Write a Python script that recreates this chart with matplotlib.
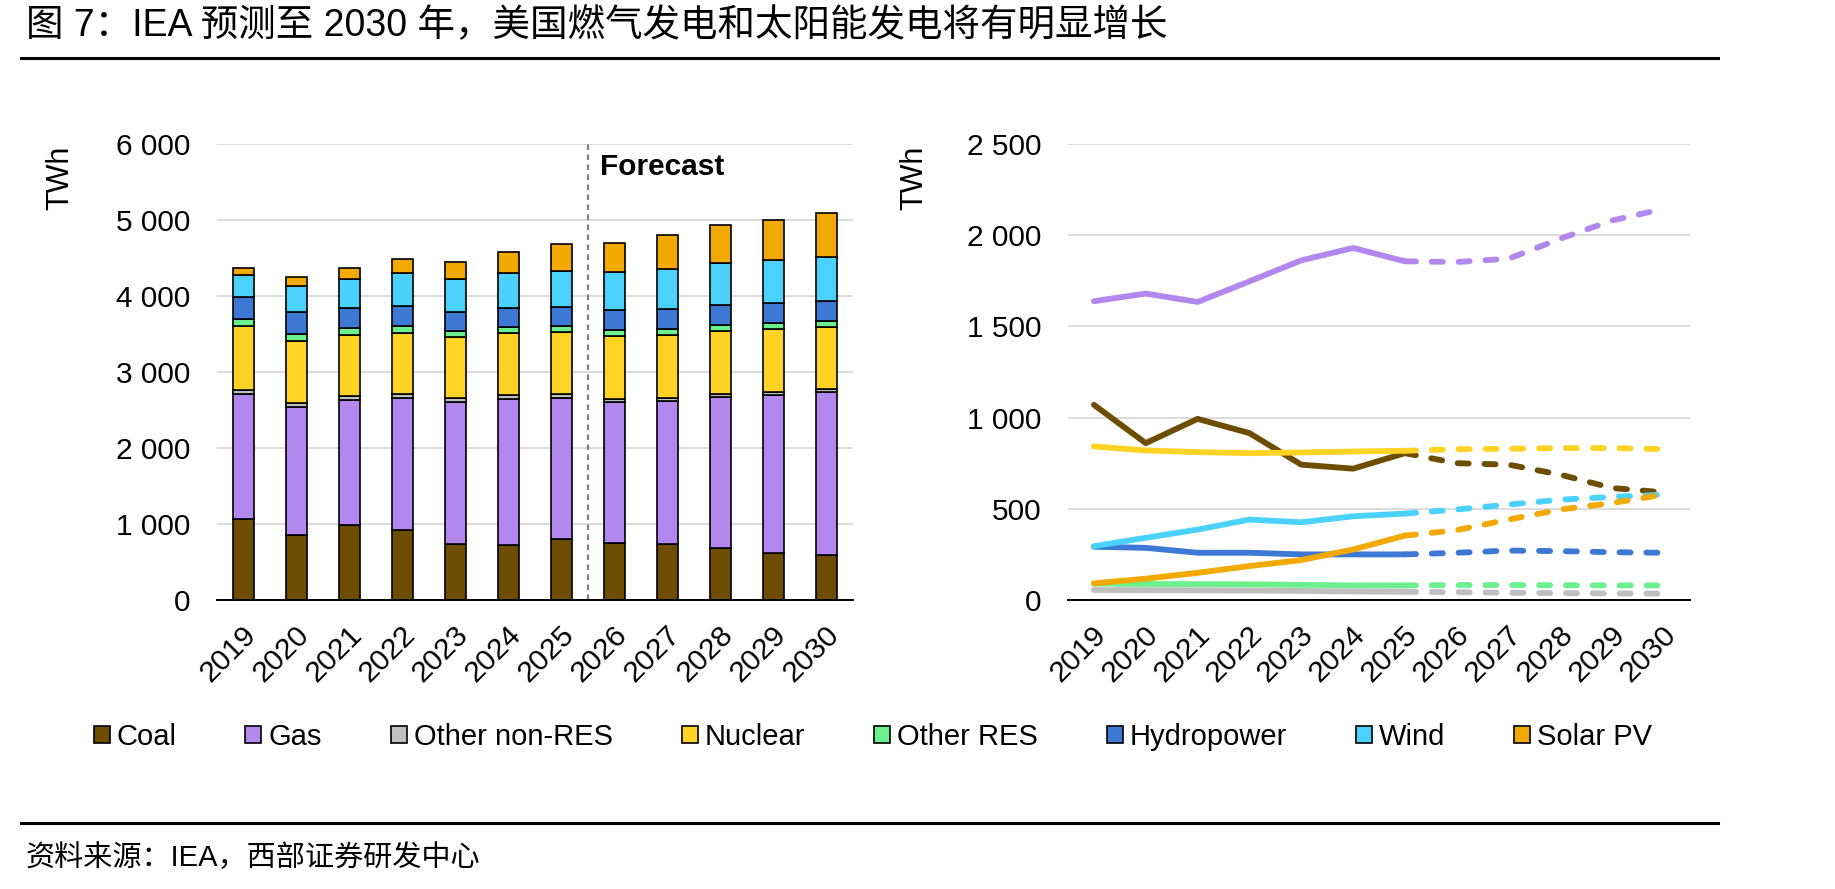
import numpy as np
import matplotlib
matplotlib.use("Agg")
import matplotlib.pyplot as plt
import matplotlib.transforms as mtransforms
from matplotlib.patches import Patch
from matplotlib.lines import Line2D
from matplotlib.ticker import FuncFormatter, MultipleLocator

plt.rcParams['font.family'] = ['Liberation Sans', 'Noto Sans CJK SC']

# Data (TWh)
years = ["2019", "2020", "2021", "2022", "2023", "2024",
         "2025", "2026", "2027", "2028", "2029", "2030"]
coal = [1070, 860, 993, 915, 742, 720, 805, 750, 742, 687, 614, 590]
gas = [1638, 1680, 1634, 1747, 1862, 1930, 1857, 1853, 1871, 1981, 2081, 2145]
other_nonres = [55, 54, 53, 52, 50, 47, 45, 43, 40, 38, 36, 35]
nuclear = [842, 820, 811, 805, 809, 814, 818, 827, 829, 833, 833, 827]
other_res = [90, 88, 87, 86, 83, 80, 80, 82, 82, 81, 80, 80]
hydro = [292, 286, 259, 259, 250, 250, 250, 259, 271, 268, 262, 259]
wind = [295, 341, 386, 441, 426, 459, 474, 496, 523, 550, 565, 578]
solar = [91, 117, 149, 186, 219, 277, 353, 383, 441, 496, 532, 578]

names = ["Coal", "Gas", "Other non-RES", "Nuclear", "Other RES",
         "Hydropower", "Wind", "Solar PV"]
series = [coal, gas, other_nonres, nuclear, other_res, hydro, wind, solar]
colors = ["#6E4C00", "#B388EE", "#BFBFBF", "#FFD324", "#6CF08E",
          "#3D78D4", "#4AD2FC", "#F2A900"]
last_actual = 6  # index of 2025

W, H = 1835, 889
fig = plt.figure(figsize=(W / 100, H / 100), dpi=100)

TICK_FS = 21.5


def fmt(v, pos):
  return f"{v:,.0f}".replace(",", " ")


def style_axes(ax, ymax, step):
  ax.set_ylim(0, ymax)
  ax.set_xlim(-0.5, len(years) - 0.5)
  ax.yaxis.set_major_locator(MultipleLocator(step))
  ax.yaxis.set_major_formatter(FuncFormatter(fmt))
  ax.grid(axis='y', color='#D9D9D9', lw=1.3)
  ax.set_axisbelow(True)
  for s in ['left', 'right', 'top']:
    ax.spines[s].set_visible(False)
  ax.spines['bottom'].set_color('black')
  ax.spines['bottom'].set_linewidth(1.4)
  ax.spines['bottom'].set_zorder(5)
  ax.tick_params(axis='both', length=0, labelsize=TICK_FS)
  ax.tick_params(axis='y', pad=19)
  ax.tick_params(axis='x', pad=22)
  ax.set_xticks(np.arange(len(years)))
  ax.set_xticklabels(years, rotation=45, ha='right', va='center',
                     rotation_mode='anchor')
  offset = mtransforms.ScaledTranslation(0.08, 0, fig.dpi_scale_trans)
  for lab in ax.get_xticklabels():
    lab.set_transform(lab.get_transform() + offset)
  ax.text(-0.247, 0.925, "TWh", transform=ax.transAxes, rotation=90,
          ha='center', va='center', fontsize=22)


# Left: stacked bars
ax1 = fig.add_axes([217 / W, 1 - 600 / H, 636 / W, 456 / H])
x = np.arange(len(years))
bottom = np.zeros(len(years))
for vals, c in zip(series, colors):
  ax1.bar(x, vals, width=0.39, bottom=bottom, color=c,
          edgecolor='black', linewidth=1.2, zorder=3)
  bottom += np.array(vals)
style_axes(ax1, 6000, 1000)
ax1.axvline(last_actual + 0.5, color='#7F7F7F', lw=1.6,
            linestyle=(0, (2.5, 2)), zorder=2)
ax1.text(last_actual + 0.72, 5700, "Forecast", fontsize=21.5,
         fontweight='bold', ha='left', va='center')

# Right: lines, solid for actuals, dashed for forecast
ax2 = fig.add_axes([1068 / W, 1 - 600 / H, 622 / W, 456 / H])
for vals, c in zip(series, colors):
  ax2.plot(x[:last_actual + 1], vals[:last_actual + 1], color=c, lw=4.2,
           solid_capstyle='round', solid_joinstyle='round', zorder=3)
  ax2.plot(x[last_actual:], vals[last_actual:], color=c, lw=4.2,
           linestyle=(0, (1.9, 2.7)), dash_capstyle='round', zorder=3)
style_axes(ax2, 2500, 500)

# Legend
handles = [Patch(facecolor=c, edgecolor='black', linewidth=1.2) for c in colors]
fig.legend(handles, names, loc='center', bbox_to_anchor=(873 / W, 1 - 737 / H),
           ncol=len(names), frameon=False, fontsize=21,
           handlelength=0.55, handleheight=0.55, handletextpad=0.25,
           columnspacing=2.35)

# Title, rules and source
fig.text(26 / W, 1 - 26 / H,
         "图 7：IEA 预测至 2030 年，美国燃气发电和太阳能发电将有明显增长",
         fontsize=27, ha='left', va='center')
for yy in (58, 823):
  fig.add_artist(Line2D([21 / W, 1718 / W], [1 - yy / H, 1 - yy / H],
                        transform=fig.transFigure, color='black', lw=2.2))
fig.text(26 / W, 1 - 858 / H, "资料来源：IEA，西部证券研发中心",
         fontsize=21, ha='left', va='center')

fig.savefig("out.png", dpi=100)
